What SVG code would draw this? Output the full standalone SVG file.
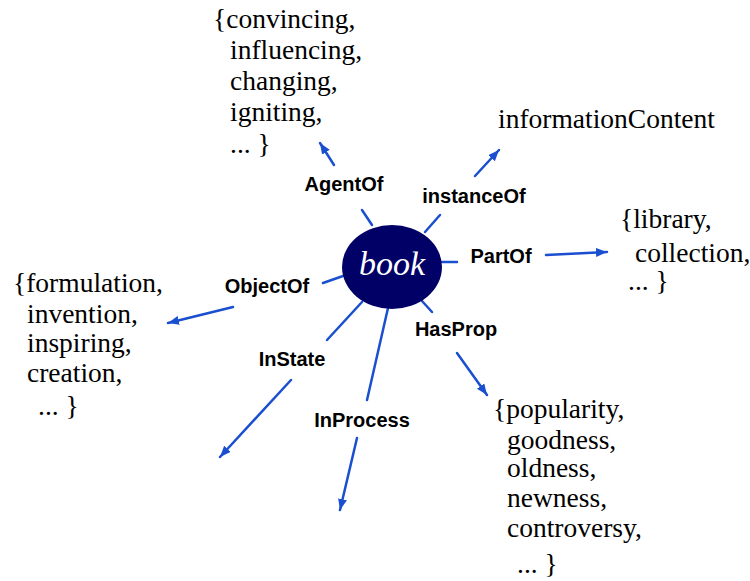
<svg xmlns="http://www.w3.org/2000/svg" width="750" height="581" viewBox="0 0 750 581">
<defs>
<marker id="ah" markerUnits="userSpaceOnUse" markerWidth="12" markerHeight="10" refX="11" refY="4.5" orient="auto">
<path d="M0,0 L11,4.5 L0,9 z" fill="#1a4fcf"/>
</marker>
<style>
.ln{stroke:#1a4fcf;stroke-width:2.5;fill:none;stroke-linecap:round}
.ar{marker-end:url(#ah)}
.lbl{font-family:"Liberation Sans",Arial,sans-serif;font-weight:bold;font-size:20px;fill:#000;text-anchor:middle}
.set{font-family:"Liberation Serif","Times New Roman",serif;font-size:27.5px;fill:#000}
</style>
</defs>
<rect width="750" height="581" fill="#fff"/>
<g id="connectors">
<line class="ln" x1="362" y1="210" x2="372" y2="225"/>
<line class="ln ar" x1="334" y1="165" x2="320" y2="143"/>
<line class="ln" x1="440" y1="215" x2="425" y2="232"/>
<line class="ln ar" x1="475" y1="176" x2="499" y2="150"/>
<line class="ln" x1="442" y1="262" x2="457" y2="262"/>
<line class="ln ar" x1="546" y1="255" x2="607" y2="252"/>
<line class="ln" x1="323" y1="283" x2="343" y2="276"/>
<line class="ln ar" x1="233" y1="307" x2="168" y2="323"/>
<line class="ln" x1="362" y1="302" x2="327" y2="340"/>
<line class="ln ar" x1="291" y1="380" x2="220" y2="457"/>
<line class="ln" x1="388" y1="308" x2="367" y2="400"/>
<line class="ln ar" x1="357" y1="438" x2="340" y2="510"/>
<line class="ln" x1="422" y1="301" x2="432" y2="312"/>
<line class="ln ar" x1="457" y1="353" x2="487" y2="395"/>
</g>
<g id="book">
<ellipse cx="392" cy="267" rx="50" ry="42" fill="#000066"/>
<text x="392" y="275" text-anchor="middle" font-family="'Liberation Serif','Times New Roman',serif" font-style="italic" font-size="34" fill="#fff">book</text>
</g>
<g id="labels">
<text class="lbl" x="344" y="191">AgentOf</text>
<text class="lbl" x="474" y="203">instanceOf</text>
<text class="lbl" x="501" y="263">PartOf</text>
<text class="lbl" x="267" y="293">ObjectOf</text>
<text class="lbl" x="292" y="366">InState</text>
<text class="lbl" x="362" y="427">InProcess</text>
<text class="lbl" x="456" y="336">HasProp</text>
</g>
<g id="agent-set">
<text class="set" x="213" y="28">{convincing,</text>
<text class="set" x="230" y="59">influencing,</text>
<text class="set" x="230" y="90">changing,</text>
<text class="set" x="230" y="121">igniting,</text>
<text class="set" x="230" y="153">...  }</text>
</g>
<g id="informationContent">
<text class="set" x="498" y="128">informationContent</text>
</g>
<g id="part-set">
<text class="set" x="620" y="228">{library,</text>
<text class="set" x="635" y="262">collection,</text>
<text class="set" x="628" y="290">...  }</text>
</g>
<g id="object-set">
<text class="set" x="13" y="292">{formulation,</text>
<text class="set" x="27" y="323">invention,</text>
<text class="set" x="27" y="352">inspiring,</text>
<text class="set" x="27" y="382">creation,</text>
<text class="set" x="38" y="415">...  }</text>
</g>
<g id="prop-set">
<text class="set" x="493" y="418">{popularity,</text>
<text class="set" x="507" y="449">goodness,</text>
<text class="set" x="507" y="477">oldness,</text>
<text class="set" x="507" y="507">newness,</text>
<text class="set" x="507" y="537">controversy,</text>
<text class="set" x="517" y="573">...  }</text>
</g>
</svg>
